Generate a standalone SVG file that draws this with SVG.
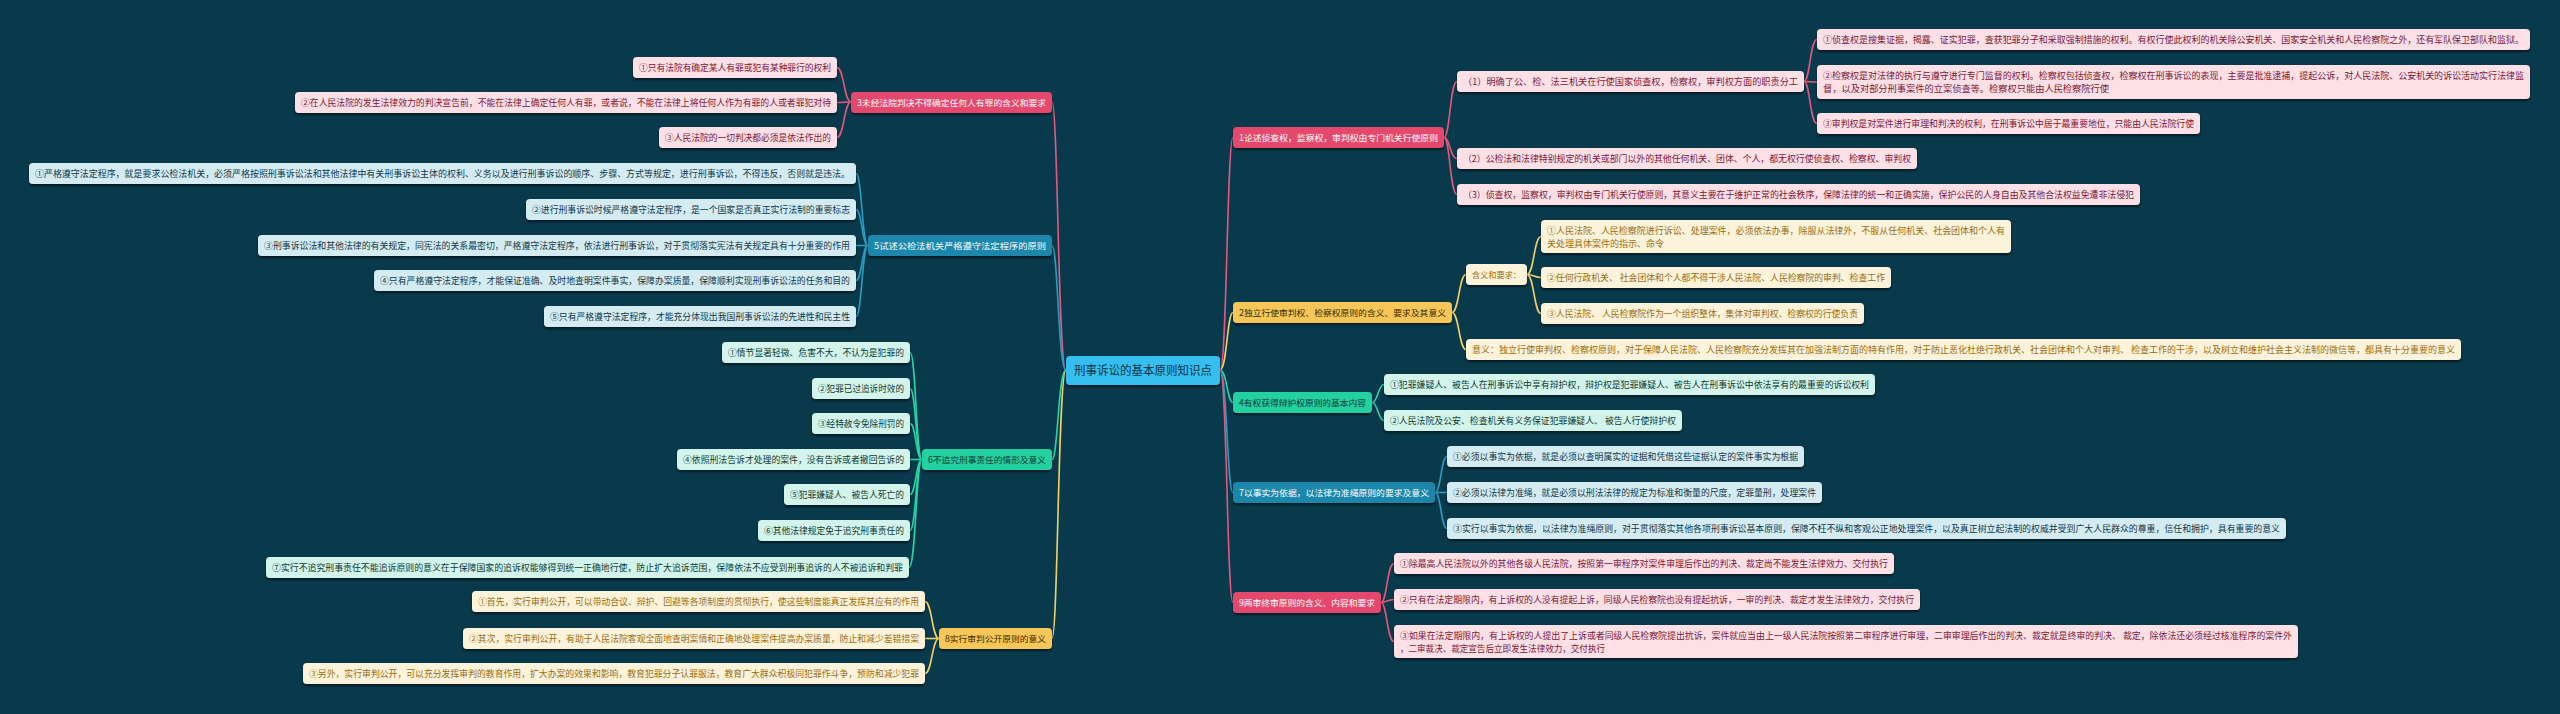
<svg xmlns="http://www.w3.org/2000/svg" width="2560" height="714" viewBox="0 0 2560 714">
<defs>
<filter id="sh" x="-5%" y="-20%" width="110%" height="160%"><feDropShadow dx="0" dy="2" stdDeviation="0.8" flood-color="#000" flood-opacity="0.55"/></filter>
<style>
text{font-family:"Noto Sans CJK SC","Noto Sans",sans-serif;font-size:9px;}
rect{filter:url(#sh);}
.root{fill:#35bef0;}
.bp{fill:#e4486d;} .cp{fill:#fde0e6;}
.bb{fill:#1b87ab;} .cb{fill:#d4ebf2;}
.bg{fill:#22d0a0;} .cg{fill:#d3f4ea;}
.by{fill:#f6c659;} .cy{fill:#fdf3da;}
.tw{fill:#ffffff;} .tp{fill:#7a1837;} .tb{fill:#113848;} .tg{fill:#0e3a33;} .tyb{fill:#3b2a00;} .ty{fill:#9a6d12;} .tr{fill:#0b3345;font-size:12px;}
.lbl{font-size:8.5px;}
.lp{fill:none;stroke:#e3587c;stroke-width:1.6;} .lb{fill:none;stroke:#2a9cc2;stroke-width:1.6;} .lg{fill:none;stroke:#2bd3a4;stroke-width:1.6;} .ly{fill:none;stroke:#f2d068;stroke-width:1.6;}
</style>
</defs>
<rect x="0" y="0" width="2560" height="714" fill="#093a4c" style="filter:none"/>
<g id="connectors">
<path class="lp" d="M1066,370 C1058,370 1058,102 1052,102"/>
<path class="lb" d="M1066,370 C1058,370 1058,245.5 1052,245.5"/>
<path class="lg" d="M1066,370 C1058,370 1058,459.5 1052,459.5"/>
<path class="ly" d="M1066,370 C1058,370 1058,638.5 1052,638.5"/>
<path class="lp" d="M1220,370 C1227,370 1227,137.5 1233,137.5"/>
<path class="ly" d="M1220,370 C1227,370 1227,312.5 1233,312.5"/>
<path class="lg" d="M1220,370 C1227,370 1227,402.5 1233,402.5"/>
<path class="lb" d="M1220,370 C1227,370 1227,492.5 1233,492.5"/>
<path class="lp" d="M1220,370 C1227,370 1227,602.5 1233,602.5"/>
<path class="lp" d="M851,102 C844,102 844,67.5 837,67.5"/>
<path class="lp" d="M851,102 C844,102 844,102.5 837,102.5"/>
<path class="lp" d="M851,102 C844,102 844,137.5 837,137.5"/>
<path class="lb" d="M868,245.5 C862,245.5 862,173.5 856,173.5"/>
<path class="lb" d="M868,245.5 C862,245.5 862,209.5 856,209.5"/>
<path class="lb" d="M868,245.5 C862,245.5 862,245.5 856,245.5"/>
<path class="lb" d="M868,245.5 C862,245.5 862,280.5 856,280.5"/>
<path class="lb" d="M868,245.5 C862,245.5 862,316.5 856,316.5"/>
<path class="lg" d="M922,459.5 C916,459.5 916,352.5 910,352.5"/>
<path class="lg" d="M922,459.5 C916,459.5 916,388.5 910,388.5"/>
<path class="lg" d="M922,459.5 C916,459.5 916,423.5 910,423.5"/>
<path class="lg" d="M922,459.5 C916,459.5 916,459.5 910,459.5"/>
<path class="lg" d="M922,459.5 C916,459.5 916,494.5 910,494.5"/>
<path class="lg" d="M922,459.5 C916,459.5 916,530.5 910,530.5"/>
<path class="lg" d="M922,459.5 C916,459.5 916,567.5 909,567.5"/>
<path class="ly" d="M939,638.5 C932,638.5 932,601.5 925,601.5"/>
<path class="ly" d="M939,638.5 C932,638.5 932,638.5 925,638.5"/>
<path class="ly" d="M939,638.5 C932,638.5 932,673.5 925,673.5"/>
<path class="lp" d="M1444,137.5 C1450,137.5 1450,81.5 1457,81.5"/>
<path class="lp" d="M1444,137.5 C1450,137.5 1450,158.5 1457,158.5"/>
<path class="lp" d="M1444,137.5 C1450,137.5 1450,194.5 1457,194.5"/>
<path class="lp" d="M1804,81.5 C1810,81.5 1810,39.5 1817,39.5"/>
<path class="lp" d="M1804,81.5 C1810,81.5 1810,82 1817,82"/>
<path class="lp" d="M1804,81.5 C1810,81.5 1810,123.5 1817,123.5"/>
<path class="ly" d="M1452,312.5 C1459,312.5 1459,274.5 1466,274.5"/>
<path class="ly" d="M1452,312.5 C1459,312.5 1459,349.5 1466,349.5"/>
<path class="ly" d="M1527,274.5 C1534,274.5 1534,236.5 1541,236.5"/>
<path class="ly" d="M1527,274.5 C1534,274.5 1534,277.5 1541,277.5"/>
<path class="ly" d="M1527,274.5 C1534,274.5 1534,313.5 1541,313.5"/>
<path class="lg" d="M1372,402.5 C1378,402.5 1378,384.5 1384,384.5"/>
<path class="lg" d="M1372,402.5 C1378,402.5 1378,420.5 1384,420.5"/>
<path class="lb" d="M1435,492.5 C1441,492.5 1441,456.5 1447,456.5"/>
<path class="lb" d="M1435,492.5 C1441,492.5 1441,492.5 1447,492.5"/>
<path class="lb" d="M1435,492.5 C1441,492.5 1441,528.5 1447,528.5"/>
<path class="lp" d="M1381,602.5 C1387,602.5 1387,563.5 1394,563.5"/>
<path class="lp" d="M1381,602.5 C1387,602.5 1387,599.5 1394,599.5"/>
<path class="lp" d="M1381,602.5 C1387,602.5 1387,641.5 1394,641.5"/>
</g>

<g id="root"><rect class="root" x="1066" y="356" width="154" height="29" rx="4"/><text class="tr" x="1074" y="374.5" textLength="138" lengthAdjust="spacingAndGlyphs">刑事诉讼的基本原则知识点</text></g>

<g id="n3"><rect class="bp" x="851" y="92" width="201" height="21" rx="4"/><text class="tw lbl" x="857" y="106" textLength="189" lengthAdjust="spacingAndGlyphs">3未经法院判决不得确定任何人有罪的含义和要求</text></g>
<g id="n3a"><rect class="cp" x="633" y="57" width="204" height="21" rx="4"/><text class="tp" x="639" y="71" textLength="192" lengthAdjust="spacingAndGlyphs">①只有法院有确定某人有罪或犯有某种罪行的权利</text></g>
<g id="n3b"><rect class="cp" x="295" y="92" width="542" height="21" rx="4"/><text class="tp" x="301" y="106" textLength="530" lengthAdjust="spacingAndGlyphs">②在人民法院的发生法律效力的判决宣告前，不能在法律上确定任何人有罪，或者说，不能在法律上将任何人作为有罪的人或者罪犯对待</text></g>
<g id="n3c"><rect class="cp" x="659" y="127" width="178" height="21" rx="4"/><text class="tp" x="665" y="141" textLength="166" lengthAdjust="spacingAndGlyphs">③人民法院的一切判决都必须是依法作出的</text></g>

<g id="n5"><rect class="bb" x="868" y="235" width="184" height="21" rx="4"/><text class="tw lbl" x="874" y="249" textLength="172" lengthAdjust="spacingAndGlyphs">5试述公检法机关严格遵守法定程序的原则</text></g>
<g id="n5a"><rect class="cb" x="29" y="163" width="827" height="21" rx="4"/><text class="tb" x="35" y="177" textLength="815" lengthAdjust="spacingAndGlyphs">①严格遵守法定程序，就是要求公检法机关，必须严格按照刑事诉讼法和其他法律中有关刑事诉讼主体的权利、义务以及进行刑事诉讼的顺序、步骤、方式等规定，进行刑事诉讼，不得违反，否则就是违法。</text></g>
<g id="n5b"><rect class="cb" x="526" y="199" width="330" height="21" rx="4"/><text class="tb" x="532" y="213" textLength="318" lengthAdjust="spacingAndGlyphs">②进行刑事诉讼时候严格遵守法定程序，是一个国家是否真正实行法制的重要标志</text></g>
<g id="n5c"><rect class="cb" x="258" y="235" width="598" height="21" rx="4"/><text class="tb" x="264" y="249" textLength="586" lengthAdjust="spacingAndGlyphs">③刑事诉讼法和其他法律的有关规定，同宪法的关系最密切，严格遵守法定程序，依法进行刑事诉讼，对于贯彻落实宪法有关规定具有十分重要的作用</text></g>
<g id="n5d"><rect class="cb" x="374" y="270" width="482" height="21" rx="4"/><text class="tb" x="380" y="284" textLength="470" lengthAdjust="spacingAndGlyphs">④只有严格遵守法定程序，才能保证准确、及时地查明案件事实，保障办案质量，保障顺利实现刑事诉讼法的任务和目的</text></g>
<g id="n5e"><rect class="cb" x="544" y="306" width="312" height="21" rx="4"/><text class="tb" x="550" y="320" textLength="300" lengthAdjust="spacingAndGlyphs">⑤只有严格遵守法定程序，才能充分体现出我国刑事诉讼法的先进性和民主性</text></g>

<g id="n6"><rect class="bg" x="922" y="449" width="130" height="21" rx="4"/><text class="tg lbl" x="928" y="463" textLength="118" lengthAdjust="spacingAndGlyphs">6不追究刑事责任的情形及意义</text></g>
<g id="n6a"><rect class="cg" x="722" y="342" width="188" height="21" rx="4"/><text class="tg" x="728" y="356" textLength="176" lengthAdjust="spacingAndGlyphs">①情节显著轻微、危害不大，不认为是犯罪的</text></g>
<g id="n6b"><rect class="cg" x="812" y="378" width="98" height="21" rx="4"/><text class="tg" x="818" y="392" textLength="86" lengthAdjust="spacingAndGlyphs">②犯罪已过追诉时效的</text></g>
<g id="n6c"><rect class="cg" x="812" y="413" width="98" height="21" rx="4"/><text class="tg" x="818" y="427" textLength="86" lengthAdjust="spacingAndGlyphs">③经特赦令免除刑罚的</text></g>
<g id="n6d"><rect class="cg" x="677" y="449" width="233" height="21" rx="4"/><text class="tg" x="683" y="463" textLength="221" lengthAdjust="spacingAndGlyphs">④依照刑法告诉才处理的案件，没有告诉或者撤回告诉的</text></g>
<g id="n6e"><rect class="cg" x="784" y="484" width="126" height="21" rx="4"/><text class="tg" x="790" y="498" textLength="114" lengthAdjust="spacingAndGlyphs">⑤犯罪嫌疑人、被告人死亡的</text></g>
<g id="n6f"><rect class="cg" x="758" y="520" width="152" height="21" rx="4"/><text class="tg" x="764" y="534" textLength="140" lengthAdjust="spacingAndGlyphs">⑥其他法律规定免于追究刑事责任的</text></g>
<g id="n6g"><rect class="cg" x="266" y="557" width="643" height="21" rx="4"/><text class="tg" x="272" y="571" textLength="631" lengthAdjust="spacingAndGlyphs">⑦实行不追究刑事责任不能追诉原则的意义在于保障国家的追诉权能够得到统一正确地行使，防止扩大追诉范围，保障依法不应受到刑事追诉的人不被追诉和判罪</text></g>

<g id="n8"><rect class="by" x="939" y="628" width="113" height="21" rx="4"/><text class="tyb lbl" x="945" y="642" textLength="101" lengthAdjust="spacingAndGlyphs">8实行审判公开原则的意义</text></g>
<g id="n8a"><rect class="cy" x="472" y="591" width="453" height="21" rx="4"/><text class="ty" x="478" y="605" textLength="441" lengthAdjust="spacingAndGlyphs">①首先，实行审判公开，可以带动合议、辩护、回避等各项制度的贯彻执行，使这些制度能真正发挥其应有的作用</text></g>
<g id="n8b"><rect class="cy" x="463" y="628" width="462" height="21" rx="4"/><text class="ty" x="469" y="642" textLength="450" lengthAdjust="spacingAndGlyphs">②其次，实行审判公开，有助于人民法院客观全面地查明案情和正确地处理案件提高办案质量，防止和减少差错措案</text></g>
<g id="n8c"><rect class="cy" x="303" y="663" width="622" height="21" rx="4"/><text class="ty" x="309" y="677" textLength="610" lengthAdjust="spacingAndGlyphs">③另外，实行审判公开，可以充分发挥审判的教育作用，扩大办案的效果和影响，教育犯罪分子认罪服法，教育广大群众积极同犯罪作斗争，预防和减少犯罪</text></g>

<g id="n1"><rect class="bp" x="1233" y="127" width="211" height="21" rx="4"/><text class="tw lbl" x="1239" y="141" textLength="199" lengthAdjust="spacingAndGlyphs">1论述侦查权，监察权，审判权由专门机关行使原则</text></g>
<g id="n1a"><rect class="cp" x="1457" y="71" width="347" height="21" rx="4"/><text class="tp" x="1463" y="85" textLength="335" lengthAdjust="spacingAndGlyphs">（1）明确了公、检、法三机关在行使国家侦查权，检察权，审判权方面的职责分工</text></g>
<g id="n1a1"><rect class="cp" x="1817" y="29" width="713" height="21" rx="4"/><text class="tp" x="1823" y="43" textLength="701" lengthAdjust="spacingAndGlyphs">①侦查权是搜集证据，揭露、证实犯罪，查获犯罪分子和采取强制措施的权利。有权行使此权利的机关除公安机关、国家安全机关和人民检察院之外，还有军队保卫部队和监狱。</text></g>
<g id="n1a2"><rect class="cp" x="1817" y="65" width="713" height="34" rx="4"/><text class="tp" x="1823" y="78.5" textLength="701" lengthAdjust="spacingAndGlyphs">②检察权是对法律的执行与遵守进行专门监督的权利。检察权包括侦查权，检察权在刑事诉讼的表现，主要是批准逮捕，提起公诉，对人民法院、公安机关的诉讼活动实行法律监</text><text class="tp" x="1823" y="92" textLength="286" lengthAdjust="spacingAndGlyphs">督，以及对部分刑事案件的立案侦查等。检察权只能由人民检察院行使</text></g>
<g id="n1a3"><rect class="cp" x="1817" y="113" width="383" height="21" rx="4"/><text class="tp" x="1823" y="127" textLength="371" lengthAdjust="spacingAndGlyphs">③审判权是对案件进行审理和判决的权利，在刑事诉讼中居于最重要地位，只能由人民法院行使</text></g>
<g id="n1b"><rect class="cp" x="1457" y="148" width="460" height="21" rx="4"/><text class="tp" x="1463" y="162" textLength="448" lengthAdjust="spacingAndGlyphs">（2）公检法和法律特别规定的机关或部门以外的其他任何机关、团体、个人，都无权行使侦查权、检察权、审判权</text></g>
<g id="n1c"><rect class="cp" x="1457" y="184" width="683" height="21" rx="4"/><text class="tp" x="1463" y="198" textLength="671" lengthAdjust="spacingAndGlyphs">（3）侦查权，监察权，审判权由专门机关行使原则，其意义主要在于维护正常的社会秩序，保障法律的统一和正确实施，保护公民的人身自由及其他合法权益免遭非法侵犯</text></g>

<g id="n2"><rect class="by" x="1233" y="302" width="219" height="21" rx="4"/><text class="tyb lbl" x="1239" y="316" textLength="207" lengthAdjust="spacingAndGlyphs">2独立行使审判权、检察权原则的含义、要求及其意义</text></g>
<g id="n2a"><rect class="cy" x="1466" y="264" width="61" height="21" rx="4"/><text class="ty lbl" x="1472" y="278" textLength="49" lengthAdjust="spacingAndGlyphs">含义和要求：</text></g>
<g id="n2a1"><rect class="cy" x="1541" y="220" width="470" height="33" rx="4"/><text class="ty" x="1547" y="233.5" textLength="458" lengthAdjust="spacingAndGlyphs">①人民法院、人民检察院进行诉讼、处理案件，必须依法办事，除服从法律外，不服从任何机关、社会团体和个人有</text><text class="ty" x="1547" y="247" textLength="117" lengthAdjust="spacingAndGlyphs">关处理具体案件的指示、命令</text></g>
<g id="n2a2"><rect class="cy" x="1541" y="267" width="350" height="21" rx="4"/><text class="ty" x="1547" y="281" textLength="338" lengthAdjust="spacingAndGlyphs">②任何行政机关、 社会团体和个人都不得干涉人民法院、人民检察院的审判、检查工作</text></g>
<g id="n2a3"><rect class="cy" x="1541" y="303" width="323" height="21" rx="4"/><text class="ty" x="1547" y="317" textLength="311" lengthAdjust="spacingAndGlyphs">③人民法院、 人民检察院作为一个组织整体，集体对审判权、检察权的行使负责</text></g>
<g id="n2b"><rect class="cy" x="1466" y="339" width="995" height="21" rx="4"/><text class="ty" x="1472" y="353" textLength="983" lengthAdjust="spacingAndGlyphs">意义：独立行使审判权、检察权原则，对于保障人民法院、人民检察院充分发挥其在加强法制方面的特有作用，对于防止恶化杜绝行政机关、社会团体和个人对审判、 检查工作的干涉，以及树立和维护社会主义法制的微信等，都具有十分重要的意义</text></g>

<g id="n4"><rect class="bg" x="1233" y="392" width="139" height="21" rx="4"/><text class="tg lbl" x="1239" y="406" textLength="127" lengthAdjust="spacingAndGlyphs">4有权获得辩护权原则的基本内容</text></g>
<g id="n4a"><rect class="cg" x="1384" y="374" width="491" height="21" rx="4"/><text class="tg" x="1390" y="388" textLength="479" lengthAdjust="spacingAndGlyphs">①犯罪嫌疑人、被告人在刑事诉讼中享有辩护权，辩护权是犯罪嫌疑人、被告人在刑事诉讼中依法享有的最重要的诉讼权利</text></g>
<g id="n4b"><rect class="cg" x="1384" y="410" width="298" height="21" rx="4"/><text class="tg" x="1390" y="424" textLength="286" lengthAdjust="spacingAndGlyphs">②人民法院及公安、检查机关有义务保证犯罪嫌疑人、 被告人行使辩护权</text></g>

<g id="n7"><rect class="bb" x="1233" y="482" width="202" height="21" rx="4"/><text class="tw lbl" x="1239" y="496" textLength="190" lengthAdjust="spacingAndGlyphs">7以事实为依据，以法律为准绳原则的要求及意义</text></g>
<g id="n7a"><rect class="cb" x="1447" y="446" width="357" height="21" rx="4"/><text class="tb" x="1453" y="460" textLength="345" lengthAdjust="spacingAndGlyphs">①必须以事实为依据，就是必须以查明属实的证据和凭借这些证据认定的案件事实为根据</text></g>
<g id="n7b"><rect class="cb" x="1447" y="482" width="375" height="21" rx="4"/><text class="tb" x="1453" y="496" textLength="363" lengthAdjust="spacingAndGlyphs">②必须以法律为准绳，就是必须以刑法法律的规定为标准和衡量的尺度，定罪量刑，处理案件</text></g>
<g id="n7c"><rect class="cb" x="1447" y="518" width="839" height="21" rx="4"/><text class="tb" x="1453" y="532" textLength="827" lengthAdjust="spacingAndGlyphs">③实行以事实为依据，以法律为准绳原则，对于贯彻落实其他各项刑事诉讼基本原则，保障不枉不纵和客观公正地处理案件，以及真正树立起法制的权威并受到广大人民群众的尊重，信任和拥护，具有重要的意义</text></g>

<g id="n9"><rect class="bp" x="1233" y="592" width="148" height="21" rx="4"/><text class="tw lbl" x="1239" y="606" textLength="136" lengthAdjust="spacingAndGlyphs">9两审终审原则的含义、内容和要求</text></g>
<g id="n9a"><rect class="cp" x="1394" y="553" width="500" height="21" rx="4"/><text class="tp" x="1400" y="567" textLength="488" lengthAdjust="spacingAndGlyphs">①除最高人民法院以外的其他各级人民法院，按照第一审程序对案件审理后作出的判决、裁定尚不能发生法律效力、交付执行</text></g>
<g id="n9b"><rect class="cp" x="1394" y="589" width="526" height="21" rx="4"/><text class="tp" x="1400" y="603" textLength="514" lengthAdjust="spacingAndGlyphs">②只有在法定期限内，有上诉权的人没有提起上诉，同级人民检察院也没有提起抗诉，一审的判决、裁定才发生法律效力，交付执行</text></g>
<g id="n9c"><rect class="cp" x="1394" y="625" width="904" height="33" rx="4"/><text class="tp" x="1400" y="638.5" textLength="892" lengthAdjust="spacingAndGlyphs">③如果在法定期限内，有上诉权的人提出了上诉或者同级人民检察院提出抗诉，案件就应当由上一级人民法院按照第二审程序进行审理，二审审理后作出的判决、裁定就是终审的判决、 裁定，除依法还必须经过核准程序的案件外</text><text class="tp" x="1400" y="652" textLength="205" lengthAdjust="spacingAndGlyphs">，二审裁决、裁定宣告后立即发生法律效力，交付执行</text></g>
</svg>
